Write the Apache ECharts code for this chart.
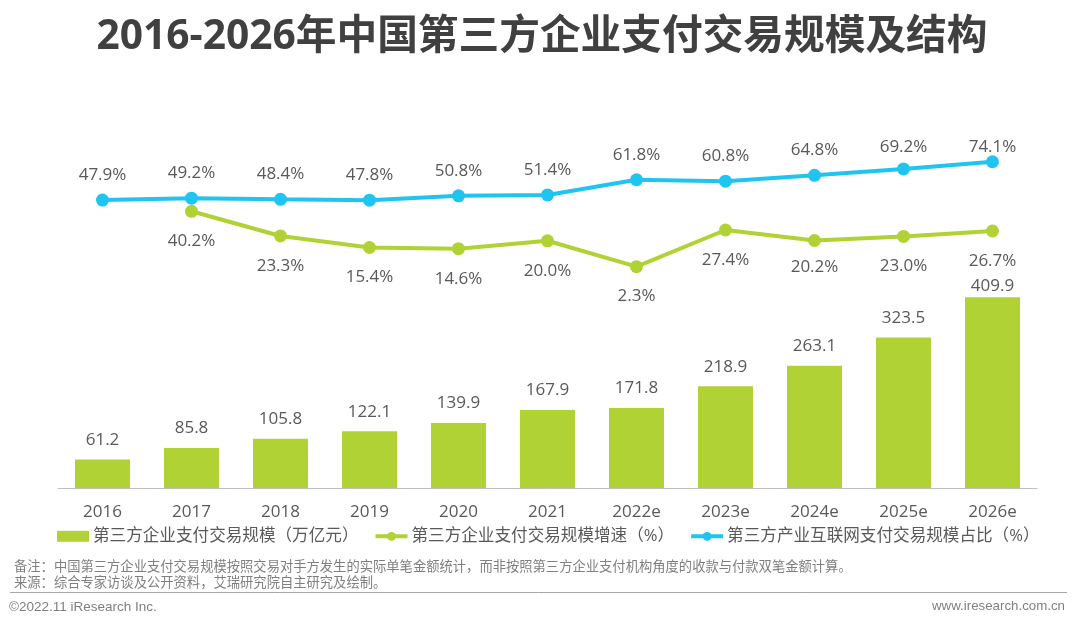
<!DOCTYPE html>
<html>
<head>
<meta charset="utf-8">
<style>
  html, body { margin: 0; padding: 0; background: #fff; }
  #chart { width: 1080px; height: 627px; }
</style>
<script src="https://cdn.jsdelivr.net/npm/echarts@6/dist/echarts.min.js"></script>
</head>
<body>
<div id="chart"></div>
<script>
const years = ['2016', '2017', '2018', '2019', '2020', '2021', '2022e', '2023e', '2024e', '2025e', '2026e'];
const scaleValues = [61.2, 85.8, 105.8, 122.1, 139.9, 167.9, 171.8, 218.9, 263.1, 323.5, 409.9];
const growthValues = [null, 40.2, 23.3, 15.4, 14.6, 20.0, 2.3, 27.4, 20.2, 23.0, 26.7];
const shareValues = [47.9, 49.2, 48.4, 47.8, 50.8, 51.4, 61.8, 60.8, 64.8, 69.2, 74.1];

const seriesNames = ['第三方企业支付交易规模（万亿元）', '第三方企业支付交易规模增速（%）', '第三方产业互联网支付交易规模占比（%）'];
const titleText = '2016-2026年中国第三方企业支付交易规模及结构';
const noteText = '备注：中国第三方企业支付交易规模按照交易对手方发生的实际单笔金额统计，而非按照第三方企业支付机构角度的收款与付款双笔金额计算。';
const sourceText = '来源：综合专家访谈及公开资料，艾瑞研究院自主研究及绘制。';

const FONT = '"Open Sans", "Noto Sans CJK SC", sans-serif';
const LATIN = '"Liberation Sans", Arial, sans-serif';
const TEXT = '#595959';
const GREEN = '#b0d235';
const BLUE = '#1fc5f0';

const chart = echarts.init(document.getElementById('chart'), undefined, { renderer: 'canvas' });

// labels the source slide moved by hand to keep them from colliding
function withLabelNudge(values, nudges) {
  return values.map((value, i) => nudges[i]
    ? { value, label: { offset: [0, nudges[i]] } }
    : value);
}

function footerTitle(text, pos, fontFamily, fontSize) {
  return {
    text,
    padding: 0,
    ...pos,
    textStyle: { fontFamily, fontSize, fontWeight: 'normal', color: '#7f7f7f' },
  };
}

function lineSeries(name, values, color, position, distance) {
  return {
    name,
    type: 'line',
    xAxisIndex: 1,
    yAxisIndex: 1,
    data: values,
    symbol: 'circle',
    symbolSize: 13,
    showSymbol: true,
    lineStyle: { color, width: 4 },
    itemStyle: { color },
    label: {
      show: true,
      position,
      distance,
      fontFamily: FONT,
      fontSize: 17,
      color: TEXT,
      formatter: p => p.value.toFixed(1) + '%',
    },
  };
}

chart.setOption({
  animation: false,
  backgroundColor: '#fff',
  textStyle: { fontFamily: FONT },
  title: [
    { text: titleText, left: 542, top: 17, padding: 0, textAlign: 'center',
      textStyle: { fontFamily: FONT, fontSize: 40.7, fontWeight: 'bold', color: '#404040' } },
    footerTitle(noteText, { left: 14, top: 560.5 }, FONT, 13.3),
    footerTitle(sourceText, { left: 14, top: 576.5 }, FONT, 13.3),
    footerTitle('©2022.11 iResearch Inc.', { left: 9, top: 600 }, LATIN, 13.5),
    footerTitle('www.iresearch.com.cn', { right: 15, top: 600 }, LATIN, 13.3),
  ],
  legend: {
    left: 57,
    top: 528,
    padding: 0,
    itemWidth: 32,
    itemHeight: 11,
    itemGap: 15,
    data: [{ name: seriesNames[0], icon: 'rect' }, { name: seriesNames[1] }, { name: seriesNames[2] }],
    lineStyle: { width: 4 },
    textStyle: { fontFamily: FONT, fontSize: 16.6, color: TEXT, padding: [0, 0, 0, -1] },
  },
  grid: [
    { left: 58, right: 43, top: 288, height: 200 },
    { left: 58, right: 43, top: 140, height: 130 },
  ],
  xAxis: [
    { type: 'category', gridIndex: 0, data: years,
      axisTick: { show: false },
      axisLine: { lineStyle: { color: '#bfbfbf', width: 1 } },
      axisLabel: { fontFamily: FONT, fontSize: 17, color: TEXT, margin: 16 } },
    { type: 'category', gridIndex: 1, data: years, show: false },
  ],
  yAxis: [
    { type: 'value', gridIndex: 0, min: 0, max: 430, show: false, splitLine: { show: false } },
    { type: 'value', gridIndex: 1, min: 0, max: 89, show: false, splitLine: { show: false } },
  ],
  series: [
    {
      name: seriesNames[0],
      type: 'bar',
      xAxisIndex: 0,
      yAxisIndex: 0,
      data: withLabelNudge(scaleValues, { 10: 8 }),
      barWidth: 55,
      itemStyle: { color: GREEN },
      label: {
        show: true,
        position: 'top',
        distance: 11,
        fontFamily: FONT,
        fontSize: 17,
        color: TEXT,
        formatter: p => p.value.toFixed(1),
      },
    },
    lineSeries(seriesNames[1], withLabelNudge(growthValues, { 8: -3 }), GREEN, 'bottom', 15),
    lineSeries(seriesNames[2], withLabelNudge(shareValues, { 9: 3, 10: 10 }), BLUE, 'top', 10),
  ],
  graphic: [
    { type: 'line', shape: { x1: 10, y1: 592.5, x2: 1067, y2: 592.5 },
      style: { stroke: '#a6a6a6', lineWidth: 1 } },
  ],
});
</script>
</body>
</html>
